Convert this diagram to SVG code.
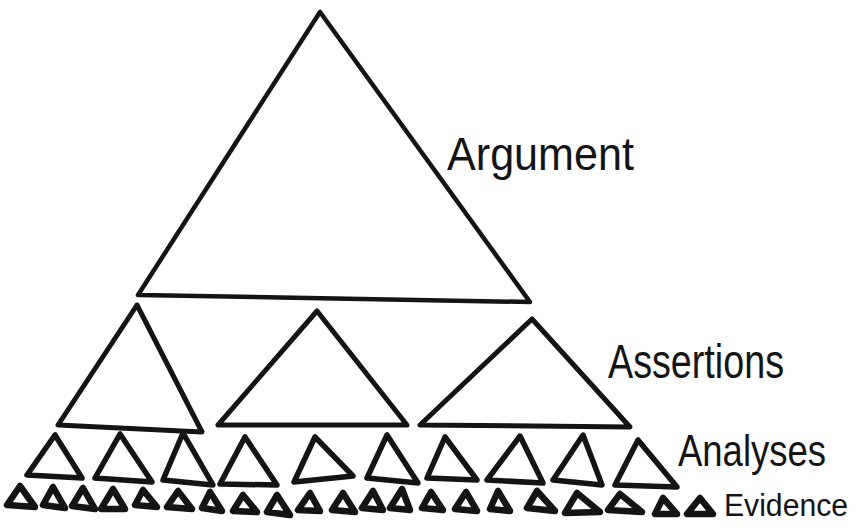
<svg xmlns="http://www.w3.org/2000/svg" width="859" height="530" viewBox="0 0 859 530">
<style>
.t{fill:none;stroke:#141414;stroke-linejoin:round;stroke-linecap:round}
.big{stroke-width:4.5}
.as{stroke-width:5}
.an{stroke-width:5.5}
.ev{stroke-width:6.5}
.lbl{font-family:"Liberation Sans",Arial,sans-serif;fill:#141414}
</style>
<rect width="859" height="530" fill="#ffffff"/>
<g id="argument">
<polygon class="t big" points="320,12 138,295 530,302"/>
<text class="lbl" x="447" y="170" font-size="46" textLength="187" lengthAdjust="spacingAndGlyphs">Argument</text>
</g>
<g id="assertions">
<polygon class="t as" points="137,305 58,425 202,432"/>
<polygon class="t as" points="317,311 218,425 407,425"/>
<polygon class="t as" points="532,319 420,425 630,427"/>
<text class="lbl" x="608" y="378" font-size="48" textLength="176" lengthAdjust="spacingAndGlyphs">Assertions</text>
</g>
<g id="analyses">
<polygon class="t an" points="55,435 27,475 82,478"/>
<polygon class="t an" points="120,434 95,478 152,482"/>
<polygon class="t an" points="183,433 163,480 213,485"/>
<polygon class="t an" points="245,437 220,484 277,485"/>
<polygon class="t an" points="315,437 294,482 353,476"/>
<polygon class="t an" points="387,435 367,478 418,483"/>
<polygon class="t an" points="445,437 427,478 477,480"/>
<polygon class="t an" points="520,436 487,480 543,483"/>
<polygon class="t an" points="583,435 553,480 602,485"/>
<polygon class="t an" points="638,440 615,485 677,487"/>
<text class="lbl" x="678" y="466" font-size="44" textLength="148" lengthAdjust="spacingAndGlyphs">Analyses</text>
</g>
<g id="evidence">
<polygon class="t ev" points="20,486 7,505 35,507"/>
<polygon class="t ev" points="53,487 43,505 65,508"/>
<polygon class="t ev" points="83,488 72,506 95,509"/>
<polygon class="t ev" points="113,489 101,509 125,509"/>
<polygon class="t ev" points="143,490 135,505 157,507"/>
<polygon class="t ev" points="178,491 167,507 192,509"/>
<polygon class="t ev" points="210,492 202,508 222,511"/>
<polygon class="t ev" points="243,495 233,511 257,512"/>
<polygon class="t ev" points="277,495 267,512 290,515"/>
<polygon class="t ev" points="310,493 298,510 320,511"/>
<polygon class="t ev" points="343,493 332,510 355,512"/>
<polygon class="t ev" points="373,491 362,508 383,510"/>
<polygon class="t ev" points="402,489 390,508 410,510"/>
<polygon class="t ev" points="431,492 422,508 443,510"/>
<polygon class="t ev" points="466,492 455,509 477,511"/>
<polygon class="t ev" points="498,491 490,509 510,511"/>
<polygon class="t ev" points="537,491 527,508 555,511"/>
<polygon class="t ev" points="577,493 565,513 600,512"/>
<polygon class="t ev" points="620,494 608,510 642,512"/>
<polygon class="t ev" points="663,498 655,514 677,514"/>
<polygon class="t ev" points="700,498 687,514 713,514"/>
<text class="lbl" x="724" y="516" font-size="31" textLength="124" lengthAdjust="spacingAndGlyphs">Evidence</text>
</g>
</svg>
